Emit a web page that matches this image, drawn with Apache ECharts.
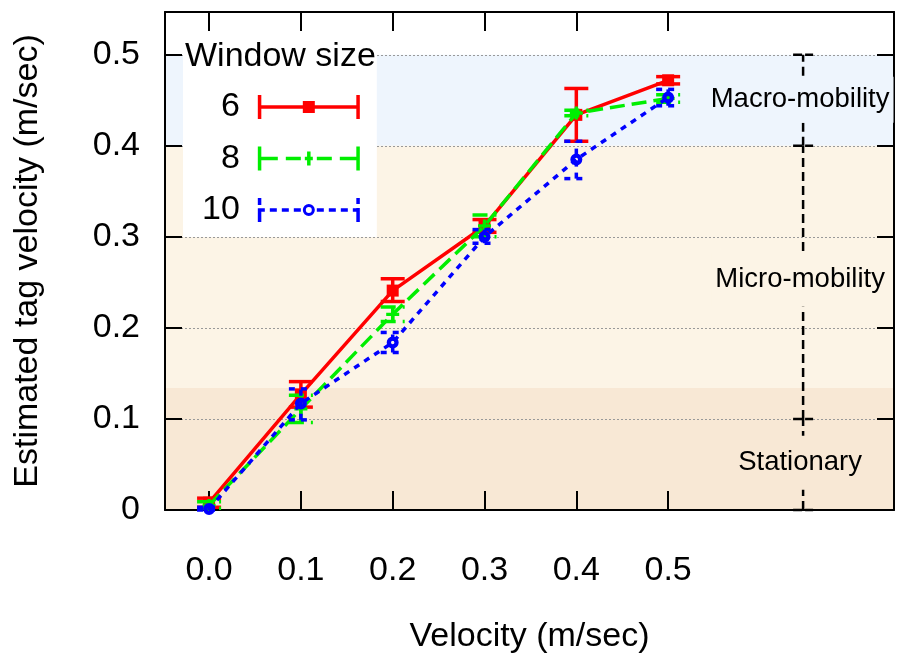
<!DOCTYPE html>
<html>
<head>
<meta charset="utf-8">
<script src="https://cdn.jsdelivr.net/npm/echarts@6/dist/echarts.min.js"></script>
<style>
  html, body { margin: 0; padding: 0; background: #fff; }
  #chart { width: 898px; height: 666px; }
</style>
</head>
<body>
<div id="chart"></div>
<script>
// Measured tag velocity vs. true velocity, for three window sizes (mean with min/max bars)
const velocities = [0.0, 0.1, 0.2, 0.3, 0.4, 0.5];
const xTickValues = [0.0, 0.1, 0.2, 0.3, 0.4, 0.5];
const windowSizes = ['6', '8', '10'];

const w6Mean = [0.008, 0.127, 0.241, 0.312, 0.434, 0.472];
const w6Low  = [0.003, 0.113, 0.229, 0.305, 0.405, 0.468];
const w6High = [0.013, 0.141, 0.254, 0.319, 0.463, 0.476];

const w8Mean = [0.005, 0.111, 0.215, 0.312, 0.436, 0.452];
const w8Low  = [0.002, 0.096, 0.207, 0.300, 0.433, 0.448];
const w8High = [0.009, 0.126, 0.223, 0.324, 0.439, 0.456];

const w10Mean = [0.001, 0.117, 0.184, 0.300, 0.385, 0.453];
const w10Low  = [0.000, 0.099, 0.173, 0.293, 0.364, 0.444];
const w10High = [0.003, 0.133, 0.195, 0.308, 0.405, 0.462];

// Mobility zones: [lower, upper] of each shaded band, label names and label heights
const zoneNames = ['Macro-mobility', 'Micro-mobility', 'Stationary'];
const zoneBands = [[0.4, 0.5], [0.134, 0.4], [0.0, 0.134]];
const zoneLabelY = [0.4505, 0.253, 0.052];
const zoneMarkerX = 0.647;
const zoneMarkerTicks = [0.0, 0.1, 0.4, 0.5];

// ---- styling ----
const FONT = "'Liberation Sans', Arial, Helvetica, sans-serif";
const bandColors = ['#eef5fd', '#fcf4e6', '#f8e8d5'];
const labelPadding = [[9, 4], [13, 4], [13, 4]];
const seriesColors = ['#ff0000', '#00ee00', '#0000ff'];
const seriesDash = [null, [15, 7], [6, 6]];
const LW = 3.5;

// marker shapes
const plusSymbol = 'path://M4.5,0h3v12h-3z M0,4.5h12v3h-12z';
const ringSymbol = 'path://M0,6a6,6 0 1,0 12,0a6,6 0 1,0 -12,0z M4.3,6a1.7,1.7 0 1,1 3.4,0a1.7,1.7 0 1,1 -3.4,0z';

// legend glyphs: line sample with error-bar caps and the marker in the middle (102 x 24)
const capL = 'M0,0h3.5v24h-3.5z';
const capR = 'M98.5,0h3.5v24h-3.5z';
const seg = (a, b) => `M${a},10.25h${b - a}v3.5h-${b - a}z`;
const legendIcons = [
  'path://' + capL + capR + seg(0, 102) + 'M45,6h12v12h-12z',
  'path://' + capL + capR + seg(0, 20) + seg(28, 43) + seg(47, 55) + seg(59, 74) + seg(82, 102) +
    'M49.25,5h3.5v14h-3.5z',
  'path://' + 'M0,0h3.5v7h-3.5z M0,11h3.5v13h-3.5z M98.5,0h3.5v6h-3.5z M98.5,10h3.5v14h-3.5z' +
    seg(0, 7) + seg(12, 19) + seg(24, 31) + seg(36, 43) + seg(59, 66) + seg(71, 78) + seg(83, 90) + seg(95, 102) +
    'M45,12a6,6 0 1,0 12,0a6,6 0 1,0 -12,0z M48,12a3,3 0 1,1 6,0a3,3 0 1,1 -6,0z'
];

const chart = echarts.init(document.getElementById('chart'), null, { renderer: 'canvas' });

function meanSeries(idx, means, symbol, symbolSize) {
  return {
    type: 'line',
    name: windowSizes[idx],
    data: velocities.map((v, i) => [v, means[i]]),
    symbol: symbol,
    symbolSize: symbolSize,
    showSymbol: true,
    lineStyle: { color: seriesColors[idx], width: LW, type: seriesDash[idx] || 'solid', cap: 'butt' },
    itemStyle: { color: seriesColors[idx], borderWidth: 0 },
    z: 3 + idx,
    animation: false,
    silent: true
  };
}

function errorSeries(idx, lows, highs) {
  const color = seriesColors[idx];
  const dash = seriesDash[idx];
  return {
    type: 'custom',
    name: windowSizes[idx],
    data: velocities.map((v, i) => [v, lows[i], highs[i]]),
    encode: { x: 0, y: [1, 2] },
    itemStyle: { color: color },
    z: 3 + idx,
    silent: true,
    animation: false,
    renderItem(params, api) {
      const lo = api.coord([api.value(0), api.value(1)]);
      const hi = api.coord([api.value(0), api.value(2)]);
      const hw = 12;
      const st = { stroke: color, lineWidth: LW, lineDash: dash, fill: null };
      return {
        type: 'group',
        children: [
          { type: 'line', shape: { x1: lo[0], y1: lo[1], x2: hi[0], y2: hi[1] }, style: st },
          { type: 'line', shape: { x1: lo[0] - hw, y1: lo[1], x2: lo[0] + hw, y2: lo[1] }, style: st },
          { type: 'line', shape: { x1: hi[0] - hw, y1: hi[1], x2: hi[0] + hw, y2: hi[1] }, style: st }
        ]
      };
    }
  };
}

const option = {
  animation: false,
  backgroundColor: '#fff',
  textStyle: { fontFamily: FONT },
  grid: { left: 165, right: 4, top: 12, bottom: 156, containLabel: false },
  title: {
    text: 'Window size',
    left: 185, top: 40, padding: 0, z: 11,
    textStyle: { fontFamily: FONT, fontSize: 34, fontWeight: 'normal', color: '#000' }
  },
  legend: {
    data: windowSizes.map((n, i) => ({ name: n, icon: legendIcons[i], itemStyle: { color: seriesColors[i], borderWidth: 0 } })),
    orient: 'vertical',
    align: 'right',
    left: 183, top: 40,
    itemWidth: 102, itemHeight: 24, itemGap: 17.5,
    padding: [50, 17, 10, 19],
    backgroundColor: '#fff',
    selectedMode: false,
    z: 10,
    itemStyle: { borderWidth: 0 },
    textStyle: { fontFamily: FONT, fontSize: 34, color: '#000', padding: [0, 13, 0, 0] }
  },
  xAxis: [
    {
      type: 'value', position: 'bottom', min: -0.048, max: 0.746, z: 1,
      name: 'Velocity (m/sec)', nameLocation: 'middle', nameGap: 110,
      nameTextStyle: { fontFamily: FONT, fontSize: 34, color: '#000' },
      axisLine: { show: true, onZero: false, lineStyle: { color: '#000', width: 2 } },
      axisTick: { show: true, inside: true, length: 19, customValues: xTickValues, lineStyle: { color: '#000', width: 2 } },
      axisLabel: { show: true, customValues: xTickValues, margin: 44, fontFamily: FONT, fontSize: 34, color: '#000',
        formatter: v => Number(v).toFixed(1) },
      splitLine: { show: false }
    },
    {
      type: 'value', position: 'top', min: -0.048, max: 0.746, z: 1,
      axisLine: { show: true, onZero: false, lineStyle: { color: '#000', width: 2 } },
      axisTick: { show: true, inside: true, length: 19, customValues: xTickValues, lineStyle: { color: '#000', width: 2 } },
      axisLabel: { show: false },
      splitLine: { show: false }
    }
  ],
  yAxis: [
    {
      type: 'value', position: 'left', min: 0, max: 0.547, interval: 0.1, z: 1,
      name: 'Estimated tag velocity (m/sec)', nameLocation: 'middle', nameGap: 120,
      nameTextStyle: { fontFamily: FONT, fontSize: 34, color: '#000' },
      axisLine: { show: true, onZero: false, lineStyle: { color: '#000', width: 2 } },
      axisTick: { show: true, inside: true, length: 17, lineStyle: { color: '#000', width: 2 } },
      axisLabel: { show: true, margin: 25, fontFamily: FONT, fontSize: 34, color: '#000', showMaxLabel: false,
        formatter: v => (v > 0.5 + 1e-9 ? '' : (v === 0 ? '0' : Number(v).toFixed(1))) },
      splitLine: { show: true, lineStyle: { color: '#999', width: 1, type: [2, 2] } }
    },
    {
      type: 'value', position: 'right', min: 0, max: 0.547, interval: 0.1, z: 1,
      axisLine: { show: true, onZero: false, lineStyle: { color: '#000', width: 2 } },
      axisTick: { show: true, inside: true, length: 17, lineStyle: { color: '#000', width: 2 } },
      axisLabel: { show: false },
      splitLine: { show: false }
    }
  ],
  series: [
    // shaded mobility bands
    {
      type: 'custom', name: 'bands', silent: true, z: 0,
      data: zoneBands.map(b => [zoneMarkerX, b[0], b[1]]),
      encode: { x: 0, y: [1, 2] },
      renderItem(params, api) {
        const cs = params.coordSys;
        const yLo = api.coord([api.value(0), api.value(1)])[1];
        const yHi = api.coord([api.value(0), api.value(2)])[1];
        return { type: 'rect', shape: { x: cs.x, y: yHi, width: cs.width, height: yLo - yHi },
          style: { fill: bandColors[params.dataIndex] } };
      }
    },
    // dashed zone range marker with caps at the zone limits
    {
      type: 'custom', name: 'zoneMarker', silent: true, z: 2,
      data: zoneMarkerTicks.map(t => [zoneMarkerX, t]),
      encode: { x: 0, y: 1 },
      renderItem(params, api) {
        const p = api.coord([api.value(0), api.value(1)]);
        const children = [
          { type: 'line', shape: { x1: p[0] - 10, y1: p[1], x2: p[0] + 10, y2: p[1] },
            style: { stroke: '#000', lineWidth: 2.5, lineDash: [9, 3] } }
        ];
        if (params.dataIndex < zoneMarkerTicks.length - 1) {
          const q = api.coord([zoneMarkerX, zoneMarkerTicks[params.dataIndex + 1]]);
          children.push({ type: 'line', shape: { x1: p[0], y1: p[1], x2: q[0], y2: q[1] },
            style: { stroke: '#000', lineWidth: 2.5, lineDash: [9, 5] } });
        }
        return { type: 'group', children };
      }
    },
    // zone names
    {
      type: 'custom', name: 'zoneLabels', silent: true, z: 2.5,
      data: zoneLabelY.map(y => [zoneMarkerX, y]),
      encode: { x: 0, y: 1 },
      renderItem(params, api) {
        const p = api.coord([api.value(0), api.value(1)]);
        return {
          type: 'text', x: p[0] - 3, y: p[1],
          style: { text: zoneNames[params.dataIndex], fill: '#000', font: '27.5px ' + FONT,
            align: 'center', verticalAlign: 'middle',
            backgroundColor: bandColors[params.dataIndex], padding: labelPadding[params.dataIndex] }
        };
      }
    },
    meanSeries(0, w6Mean, 'rect', 12),
    errorSeries(0, w6Low, w6High),
    meanSeries(1, w8Mean, plusSymbol, 13),
    errorSeries(1, w8Low, w8High),
    meanSeries(2, w10Mean, ringSymbol, 12),
    errorSeries(2, w10Low, w10High)
  ]
};

chart.setOption(option);
</script>
</body>
</html>
